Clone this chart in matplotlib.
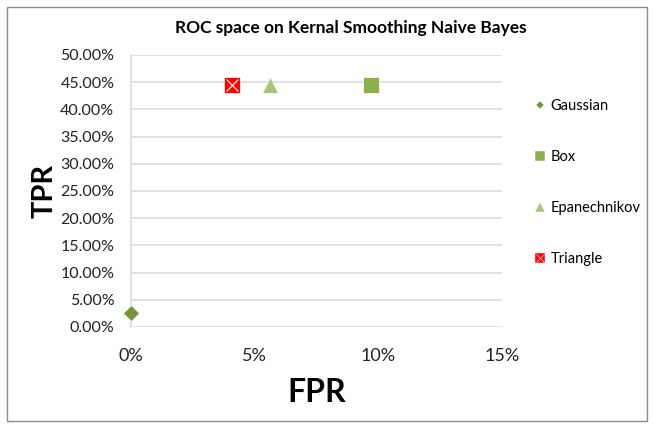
import matplotlib
matplotlib.use("Agg")
import matplotlib.pyplot as plt
from matplotlib.patches import Rectangle
from matplotlib.lines import Line2D
from matplotlib.ticker import PercentFormatter
from matplotlib.legend_handler import HandlerTuple

plt.rcParams['font.family'] = ['Lato', 'DejaVu Sans']

# data
kernels = ['Gaussian', 'Box', 'Epanechnikov', 'Triangle']
fpr = [0.000, 0.097, 0.056, 0.041]
tpr = [0.025, 0.4444, 0.4444, 0.4444]
markers = ['D', 's', '^', 's']
sizes = [8.5, 12, 12, 12]
colors = ['#77933C', '#8DB04F', '#A9C47F', '#FF0000']

fig = plt.figure(figsize=(6.54, 4.28), dpi=100)
ax = fig.add_axes([0.2003, 0.236, 0.5673, 0.6355])

handles = []
for k, x, y, m, s, c in zip(kernels, fpr, tpr, markers, sizes, colors):
    ax.plot([x], [y], linestyle='none', marker=m, markersize=s, color=c,
            markeredgecolor='white', markeredgewidth=0.5, zorder=3, clip_on=False)
    h = Line2D([], [], linestyle='none', marker=m, markersize=7 if m != 'D' else 4.5,
               color=c, markeredgecolor='white', markeredgewidth=0.3)
    if k == 'Triangle':
        ax.plot([x], [y], linestyle='none', marker='x', markersize=9,
                color='white', markeredgewidth=0.8, zorder=4)
        hx = Line2D([], [], linestyle='none', marker='x', markersize=5.5,
                    color='#FFB0B0', markeredgewidth=0.6)
        h = (h, hx)
    handles.append(h)

ax.set_xlim(0, 0.15)
ax.set_ylim(0, 0.5)
ax.set_xticks([0, 0.05, 0.10, 0.15])
ax.set_yticks([i * 0.05 for i in range(11)])
ax.xaxis.set_major_formatter(PercentFormatter(1.0, decimals=0))
ax.yaxis.set_major_formatter(PercentFormatter(1.0, decimals=2))
ax.tick_params(axis='x', length=0, labelsize=13, colors='#222222', pad=15)
ax.tick_params(axis='y', length=0, labelsize=11.5, colors='#222222', pad=12)
ax.grid(axis='y', color='#D9D9D9', linewidth=1.1)
ax.set_axisbelow(True)
for side in ['top', 'right', 'bottom']:
    ax.spines[side].set_visible(False)
ax.spines['left'].set_color('#D9D9D9')
ax.spines['left'].set_linewidth(1.1)

ax.set_xlabel('FPR', fontsize=23, fontweight='bold', labelpad=10)
ax.set_ylabel('TPR', fontsize=21, fontweight='bold', labelpad=2)
fig.text(0.537, 0.935, 'ROC space on Kernal Smoothing Naive Bayes',
         ha='center', va='center', fontsize=12.5, fontweight='bold')

fig.legend(handles, kernels, loc='upper left', bbox_to_anchor=(0.795, 0.80),
           frameon=False, fontsize=10.5, labelspacing=2.55, handletextpad=0.2,
           handlelength=1.0, handler_map={tuple: HandlerTuple(ndivide=1, pad=0)})

fig.patches.append(Rectangle((0.011, 0.016), 0.978, 0.968, transform=fig.transFigure,
                             fill=False, edgecolor='#8C8C8C', linewidth=1.0))

fig.savefig('out.png', dpi=100)
